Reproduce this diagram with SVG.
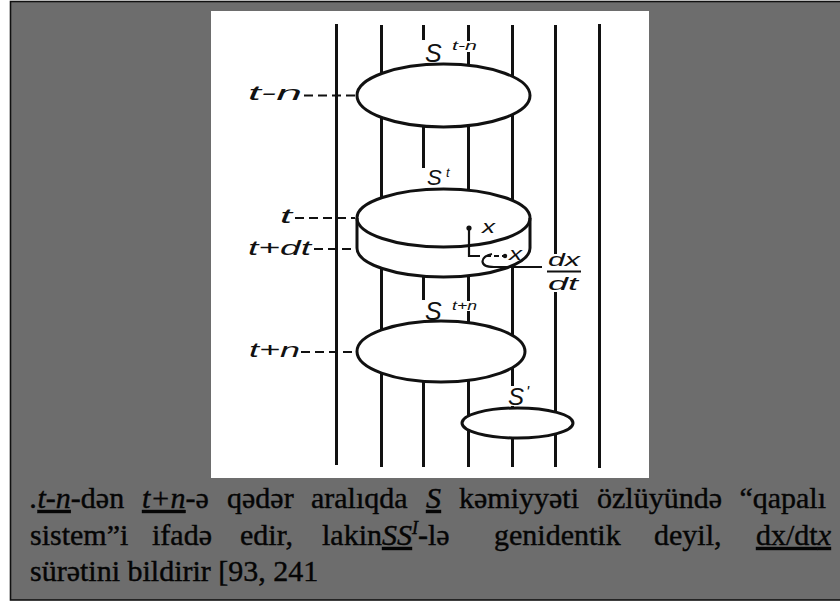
<svg xmlns="http://www.w3.org/2000/svg" width="840" height="601" viewBox="0 0 840 601">
<style>
.wl{stroke:#111;stroke-width:3;fill:none}
.ell{stroke:#111;stroke-width:3;fill:#fff}
.lead{stroke:#111;stroke-width:2.2;fill:none;stroke-dasharray:9 5}
.thin{stroke:#111;stroke-width:2.2;fill:none}
.lbl{font-family:"Liberation Sans","DejaVu Sans",sans-serif;font-style:italic;fill:#111}
.cap text{font-family:"Liberation Serif","Times New Roman","DejaVu Serif",serif;font-size:30px;fill:#050505;stroke:#050505;stroke-width:0.4}
.it{font-style:italic}
.ul{text-decoration:underline}
</style>
<rect x="0" y="0" width="840" height="601" fill="#fff"/>
<rect id="frame" x="10.5" y="1.5" width="840" height="598.5" fill="#6d6d6d" stroke="#111" stroke-width="1.6"/>
<rect id="panel" x="211" y="11" width="438" height="467" fill="#fff"/>

<g id="worldlines" class="wl">
<line x1="336.5" y1="24" x2="336.5" y2="465"/>
<line x1="381.5" y1="25" x2="381.5" y2="467"/>
<line x1="423.5" y1="25" x2="423.5" y2="40"/>
<line x1="423.5" y1="120" x2="423.5" y2="168"/>
<line x1="423.5" y1="270" x2="423.5" y2="300"/>
<line x1="423.5" y1="375" x2="423.5" y2="467"/>
<line x1="468.5" y1="25" x2="468.5" y2="41"/>
<line x1="468.5" y1="52" x2="468.5" y2="301"/>
<line x1="468.5" y1="311" x2="468.5" y2="467"/>
<line x1="512.5" y1="25" x2="512.5" y2="386"/>
<line x1="512.5" y1="406" x2="512.5" y2="467"/>
<line x1="555.5" y1="25" x2="555.5" y2="254"/>
<line x1="555.5" y1="292" x2="555.5" y2="467"/>
<line x1="599.5" y1="24" x2="599.5" y2="468"/>
</g>

<g id="node-S-t-n">
<ellipse class="ell" cx="443.5" cy="95.5" rx="86.5" ry="31.5"/>
<text class="lbl" x="425" y="62" font-size="25">S</text>
<text class="lbl" x="452" y="50" font-size="12" textLength="25" lengthAdjust="spacingAndGlyphs">t-n</text>
</g>

<g id="node-S-t">
<path class="ell" d="M357,218 A86.5,29 0 0 1 530,218 L530,248 A86.5,29 0 0 1 357,248 Z"/>
<path class="ell" style="fill:none" d="M357,218 A86.5,29 0 0 0 530,218"/>
<text class="lbl" x="427" y="185" font-size="22">S</text>
<text class="lbl" x="446" y="177" font-size="13">t</text>
</g>

<g id="node-S-t+n">
<ellipse class="ell" cx="441" cy="351.5" rx="84" ry="30.5"/>
<text class="lbl" x="425" y="320" font-size="25">S</text>
<text class="lbl" x="452" y="310" font-size="12" textLength="25" lengthAdjust="spacingAndGlyphs">t+n</text>
</g>

<g id="node-S-prime">
<ellipse class="ell" cx="517.5" cy="423" rx="55.5" ry="15"/>
<text class="lbl" x="508" y="405" font-size="24">S</text>
<text class="lbl" x="526" y="398" font-size="16">'</text>
</g>

<g id="time-labels">
<text class="lbl" x="248" y="100" font-size="20" textLength="54" lengthAdjust="spacingAndGlyphs">t-n</text>
<text class="lbl" x="280" y="223" font-size="20" textLength="12" lengthAdjust="spacingAndGlyphs">t</text>
<text class="lbl" x="248" y="255" font-size="20" textLength="63" lengthAdjust="spacingAndGlyphs">t+dt</text>
<text class="lbl" x="249" y="357" font-size="20" textLength="51" lengthAdjust="spacingAndGlyphs">t+n</text>
</g>

<g id="connectors">
<line class="lead" x1="304" y1="95.5" x2="355" y2="95.5"/>
<line class="lead" x1="295" y1="218" x2="355" y2="218"/>
<line class="lead" x1="314" y1="249" x2="355" y2="249"/>
<line class="lead" x1="301" y1="352" x2="355" y2="352"/>
<polyline class="thin" points="469,228 469,256 480,256"/>
<line class="thin" x1="486" y1="256" x2="503" y2="256" stroke-dasharray="5 3"/>
<path class="thin" d="M492,254 C480,256 478,267 494,267 L542,267"/>
</g>

<g id="point-x">
<circle cx="469" cy="228" r="2.6" fill="#111"/>
<text class="lbl" x="482" y="233" font-size="19" textLength="13" lengthAdjust="spacingAndGlyphs">x</text>
<circle cx="505" cy="256" r="2.2" fill="#111"/>
<text class="lbl" x="509" y="260" font-size="19" textLength="13" lengthAdjust="spacingAndGlyphs">x</text>
<text class="lbl" x="548" y="266" font-size="18" textLength="32" lengthAdjust="spacingAndGlyphs">dx</text>
<line class="thin" x1="547" y1="271.5" x2="581" y2="271.5"/>
<text class="lbl" x="548" y="290" font-size="18" textLength="30" lengthAdjust="spacingAndGlyphs">dt</text>
</g>

<g id="caption" class="cap">
<text x="30" y="508"><tspan class="it">.</tspan><tspan class="it ul">t-n</tspan>-dən</text>
<text x="142" y="508"><tspan class="it ul">t+n</tspan>-ə</text>
<text x="227" y="508">qədər</text>
<text x="311" y="508">aralıqda</text>
<text x="426" y="508" class="it ul">S</text>
<text x="459" y="508">kəmiyyəti</text>
<text x="597" y="508">özlüyündə</text>
<text x="826" y="508" text-anchor="end">“qapalı</text>
<text x="30" y="545">sistem”i</text>
<text x="152" y="545">ifadə</text>
<text x="240" y="545">edir,</text>
<text x="322" y="545">lakin<tspan class="it ul">SS</tspan><tspan class="it" font-size="18" dy="-11">I</tspan><tspan dy="11">-lə</tspan></text>
<text x="494" y="545">genidentik</text>
<text x="654" y="545">deyil,</text>
<text x="831" y="545" text-anchor="end" class="ul">dx/dt<tspan class="it">x</tspan></text>
<text x="30" y="581">sürətini bildirir [93, 241</text>
</g>
</svg>
